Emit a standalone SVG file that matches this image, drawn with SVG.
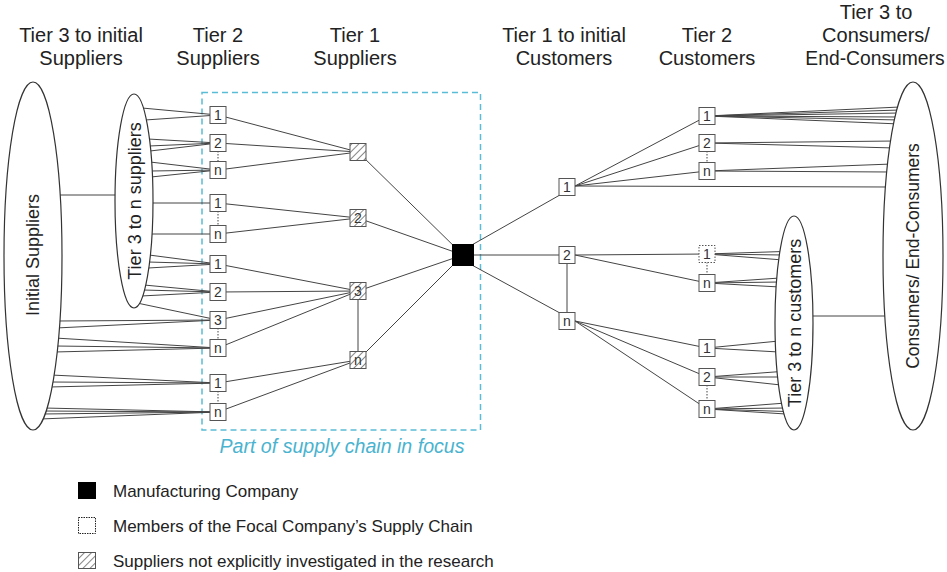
<svg xmlns="http://www.w3.org/2000/svg" width="947" height="572" viewBox="0 0 947 572">
<style>
text{font-family:"Liberation Sans",Arial,sans-serif;fill:#222}
.h{font-size:20px;text-anchor:middle}
.e{font-size:18px;text-anchor:middle;dominant-baseline:central}
.bt{font-size:14px;text-anchor:middle;fill:#333}
.box{fill:#fff;stroke:#555;stroke-width:1}
.dbox{fill:#fff;stroke:#555;stroke-width:1;stroke-dasharray:1.5 1.5}
.hbox{fill:url(#hatch);stroke:#555;stroke-width:1}
.ell{fill:#fff;stroke:#333;stroke-width:1.2}
.c line,.c path{stroke:#444;stroke-width:1;fill:none}
.dot{stroke:#555;stroke-width:1;stroke-dasharray:1.5 1.5}
.lg{font-size:17px}
</style>
<defs>
<pattern id="hatch" patternUnits="userSpaceOnUse" width="5" height="5" patternTransform="rotate(45)">
<line x1="0" y1="0" x2="0" y2="5" stroke="#444" stroke-width="1.3"/>
</pattern>
</defs>

<g id="headers">
<text class="h" x="81" y="42">Tier 3 to initial</text>
<text class="h" x="81" y="65">Suppliers</text>
<text class="h" x="218" y="42">Tier 2</text>
<text class="h" x="218" y="65">Suppliers</text>
<text class="h" x="355" y="42">Tier 1</text>
<text class="h" x="355" y="65">Suppliers</text>
<text class="h" x="564" y="42">Tier 1 to initial</text>
<text class="h" x="564" y="65">Customers</text>
<text class="h" x="707" y="42">Tier 2</text>
<text class="h" x="707" y="65">Customers</text>
<text class="h" x="876" y="19">Tier 3 to</text>
<text class="h" x="876" y="42">Consumers/</text>
<text class="h" x="875" y="65" style="font-size:19.3px">End-Consumers</text>
</g>

<g id="focus">
<rect x="202" y="92.5" width="278.5" height="337.5" fill="none" stroke="#5bbcd6" stroke-width="1.5" stroke-dasharray="6 4"/>
<text x="342" y="453" style="font-size:19.6px;font-style:italic;text-anchor:middle;fill:#4ab3cf">Part of supply chain in focus</text>
</g>

<g id="connectors" class="c">
<line x1="50" y1="195" x2="125" y2="195"/>
<line x1="800" y1="316" x2="905" y2="316"/>
<line x1="142" y1="108" x2="218" y2="115"/>
<line x1="145" y1="120" x2="218" y2="115"/>
<line x1="148" y1="139" x2="218" y2="143"/>
<line x1="149" y1="146" x2="218" y2="143"/>
<line x1="150" y1="151" x2="218" y2="143"/>
<line x1="150" y1="162" x2="218" y2="170"/>
<line x1="151" y1="171" x2="218" y2="170"/>
<line x1="151" y1="177" x2="218" y2="170"/>
<line x1="150" y1="203" x2="218" y2="203"/>
<line x1="150" y1="234" x2="218" y2="234"/>
<line x1="149" y1="255" x2="218" y2="264"/>
<line x1="148" y1="262" x2="218" y2="264"/>
<line x1="148" y1="268" x2="218" y2="264"/>
<line x1="144" y1="285" x2="218" y2="292"/>
<line x1="143" y1="290" x2="218" y2="292"/>
<line x1="141" y1="296" x2="218" y2="292"/>
<line x1="137" y1="303" x2="218" y2="320"/>
<line x1="57" y1="321" x2="218" y2="320"/>
<line x1="56" y1="328" x2="218" y2="320"/>
<line x1="55" y1="338" x2="218" y2="348"/>
<line x1="55" y1="346" x2="218" y2="348"/>
<line x1="54" y1="352" x2="218" y2="348"/>
<line x1="51" y1="375" x2="218" y2="383"/>
<line x1="50" y1="382" x2="218" y2="383"/>
<line x1="49" y1="387" x2="218" y2="383"/>
<line x1="44" y1="408" x2="218" y2="412"/>
<line x1="43" y1="411" x2="218" y2="412"/>
<line x1="42" y1="414" x2="218" y2="412"/>
<line x1="40" y1="419" x2="218" y2="412"/>
<line x1="218" y1="115" x2="358" y2="152"/>
<line x1="218" y1="143" x2="358" y2="152"/>
<line x1="218" y1="170" x2="358" y2="152"/>
<line x1="218" y1="203" x2="358" y2="218"/>
<line x1="218" y1="234" x2="358" y2="218"/>
<line x1="218" y1="264" x2="358" y2="291"/>
<line x1="218" y1="292" x2="358" y2="291"/>
<line x1="218" y1="320" x2="358" y2="291"/>
<line x1="218" y1="348" x2="358" y2="291"/>
<line x1="218" y1="383" x2="358" y2="360"/>
<line x1="218" y1="412" x2="358" y2="360"/>
<line x1="358" y1="152" x2="463" y2="255"/>
<line x1="358" y1="218" x2="463" y2="255"/>
<line x1="358" y1="291" x2="463" y2="255"/>
<line x1="358" y1="360" x2="463" y2="255"/>
<line x1="358" y1="291" x2="358" y2="360" stroke="#777"/>
<line x1="470" y1="246" x2="559" y2="195.5"/>
<line x1="470" y1="255" x2="567" y2="255"/>
<line x1="470" y1="264" x2="559" y2="312.5"/>
<line x1="567" y1="255" x2="567" y2="321"/>
<line x1="575" y1="186" x2="707" y2="116"/>
<line x1="575" y1="186" x2="707" y2="143"/>
<line x1="575" y1="186" x2="707" y2="171"/>
<line x1="575" y1="186" x2="890" y2="187"/>
<line x1="575" y1="255" x2="707" y2="254"/>
<line x1="575" y1="255" x2="707" y2="283"/>
<line x1="575" y1="321" x2="707" y2="348"/>
<line x1="575" y1="321" x2="707" y2="377"/>
<line x1="575" y1="321" x2="707" y2="409"/>
<line x1="707" y1="116" x2="900" y2="107"/>
<line x1="707" y1="116" x2="900" y2="110"/>
<line x1="707" y1="116" x2="900" y2="113"/>
<line x1="707" y1="116" x2="900" y2="117"/>
<line x1="707" y1="116" x2="900" y2="120"/>
<line x1="707" y1="116" x2="900" y2="124"/>
<line x1="707" y1="143" x2="895" y2="141"/>
<line x1="707" y1="143" x2="895" y2="148"/>
<line x1="707" y1="171" x2="892" y2="164"/>
<line x1="707" y1="171" x2="892" y2="172"/>
<line x1="707" y1="254" x2="783" y2="251.5"/>
<line x1="707" y1="254" x2="783" y2="255"/>
<line x1="707" y1="254" x2="783" y2="260"/>
<line x1="707" y1="283" x2="780" y2="278"/>
<line x1="707" y1="283" x2="780" y2="282"/>
<line x1="707" y1="283" x2="780" y2="287"/>
<line x1="707" y1="348" x2="779" y2="341"/>
<line x1="707" y1="348" x2="779" y2="352"/>
<line x1="707" y1="377" x2="781" y2="371.5"/>
<line x1="707" y1="377" x2="781" y2="377"/>
<line x1="707" y1="377" x2="781" y2="385"/>
<line x1="707" y1="409" x2="786" y2="403"/>
<line x1="707" y1="409" x2="786" y2="408"/>
<line x1="707" y1="409" x2="786" y2="411.5"/>
<line x1="707" y1="409" x2="786" y2="414"/>
<line class="dot" x1="218" y1="151" x2="218" y2="162"/>
<line class="dot" x1="218" y1="211" x2="218" y2="226"/>
<line class="dot" x1="218" y1="328" x2="218" y2="340"/>
<line class="dot" x1="218" y1="391" x2="218" y2="404"/>
<line class="dot" x1="707" y1="151" x2="707" y2="163"/>
<line class="dot" x1="707" y1="262" x2="707" y2="275"/>
<line class="dot" x1="707" y1="385" x2="707" y2="401"/>
</g>

<g id="initial-suppliers"><ellipse class="ell" cx="33" cy="256" rx="29" ry="174"/><text class="e" transform="translate(33,255) rotate(-90)">Initial Suppliers</text></g>
<g id="tier3-suppliers"><ellipse class="ell" cx="134" cy="201" rx="19" ry="107"/><text class="e" transform="translate(135,201) rotate(-90)">Tier 3 to n suppliers</text></g>
<g id="tier3-customers"><ellipse class="ell" cx="794" cy="323" rx="19" ry="107"/><text class="e" transform="translate(795,323) rotate(-90)">Tier 3 to n customers</text></g>
<g id="consumers"><ellipse class="ell" cx="913" cy="256" rx="30" ry="174"/><text class="e" style="font-size:17.5px" transform="translate(913,256) rotate(-90)">Consumers/ End-Consumers</text></g>

<g id="s2-1a"><rect class="box" x="210" y="106.5" width="16" height="17"/><text class="bt" x="218" y="120">1</text></g>
<g id="s2-2a"><rect class="box" x="210" y="134.5" width="16" height="17"/><text class="bt" x="218" y="148">2</text></g>
<g id="s2-na"><rect class="box" x="210" y="161.5" width="16" height="17"/><text class="bt" x="218" y="175">n</text></g>
<g id="s2-1b"><rect class="box" x="210" y="194.5" width="16" height="17"/><text class="bt" x="218" y="208">1</text></g>
<g id="s2-nb"><rect class="box" x="210" y="225.5" width="16" height="17"/><text class="bt" x="218" y="239">n</text></g>
<g id="s2-1c"><rect class="box" x="210" y="255.5" width="16" height="17"/><text class="bt" x="218" y="269">1</text></g>
<g id="s2-2c"><rect class="box" x="210" y="283.5" width="16" height="17"/><text class="bt" x="218" y="297">2</text></g>
<g id="s2-3c"><rect class="box" x="210" y="311.5" width="16" height="17"/><text class="bt" x="218" y="325">3</text></g>
<g id="s2-nc"><rect class="box" x="210" y="339.5" width="16" height="17"/><text class="bt" x="218" y="353">n</text></g>
<g id="s2-1d"><rect class="box" x="210" y="374.5" width="16" height="17"/><text class="bt" x="218" y="388">1</text></g>
<g id="s2-nd"><rect class="box" x="210" y="403.5" width="16" height="17"/><text class="bt" x="218" y="417">n</text></g>

<g id="s1-1"><rect x="350" y="143.5" width="16" height="17" fill="#fff"/><rect class="hbox" x="350" y="143.5" width="16" height="17"/></g>
<g id="s1-2"><rect x="350" y="209.5" width="16" height="17" fill="#fff"/><text class="bt" x="358" y="223">2</text><rect class="hbox" x="350" y="209.5" width="16" height="17"/></g>
<g id="s1-3"><rect x="350" y="282.5" width="16" height="17" fill="#fff"/><text class="bt" x="358" y="296">3</text><rect class="hbox" x="350" y="282.5" width="16" height="17"/></g>
<g id="s1-n"><rect x="350" y="351.5" width="16" height="17" fill="#fff"/><text class="bt" x="358" y="365">n</text><rect class="hbox" x="350" y="351.5" width="16" height="17"/></g>

<g id="manufacturer"><rect x="452" y="244" width="22" height="22" fill="#000"/></g>

<g id="c1-1"><rect class="box" x="559" y="178.5" width="16" height="17"/><text class="bt" x="567" y="192">1</text></g>
<g id="c1-2"><rect class="box" x="559" y="246.5" width="16" height="17"/><text class="bt" x="567" y="260">2</text></g>
<g id="c1-n"><rect class="box" x="559" y="312.5" width="16" height="17"/><text class="bt" x="567" y="326">n</text></g>

<g id="c2-1a"><rect class="box" x="699" y="107.5" width="16" height="17"/><text class="bt" x="707" y="121">1</text></g>
<g id="c2-2a"><rect class="box" x="699" y="134.5" width="16" height="17"/><text class="bt" x="707" y="148">2</text></g>
<g id="c2-na"><rect class="box" x="699" y="162.5" width="16" height="17"/><text class="bt" x="707" y="176">n</text></g>
<g id="c2-1b"><rect class="dbox" x="699" y="245.5" width="16" height="17"/><text class="bt" x="707" y="259">1</text></g>
<g id="c2-nb"><rect class="box" x="699" y="274.5" width="16" height="17"/><text class="bt" x="707" y="288">n</text></g>
<g id="c2-1c"><rect class="box" x="699" y="339.5" width="16" height="17"/><text class="bt" x="707" y="353">1</text></g>
<g id="c2-2c"><rect class="box" x="699" y="368.5" width="16" height="17"/><text class="bt" x="707" y="382">2</text></g>
<g id="c2-nc"><rect class="box" x="699" y="400.5" width="16" height="17"/><text class="bt" x="707" y="414">n</text></g>

<g id="legend">
<rect x="78" y="482" width="18" height="17" fill="#000"/>
<text class="lg" x="113" y="497">Manufacturing Company</text>
<rect x="78.5" y="517.5" width="17" height="16" fill="#fff" stroke="#222" stroke-dasharray="1.5 1"/>
<text class="lg" x="113" y="532">Members of the Focal Company’s Supply Chain</text>
<rect x="78.5" y="552.5" width="17" height="16" fill="#fff"/>
<rect x="78.5" y="552.5" width="17" height="16" fill="url(#hatch)" stroke="#555"/>
<text class="lg" x="113" y="567">Suppliers not explicitly investigated in the research</text>
</g>
</svg>
